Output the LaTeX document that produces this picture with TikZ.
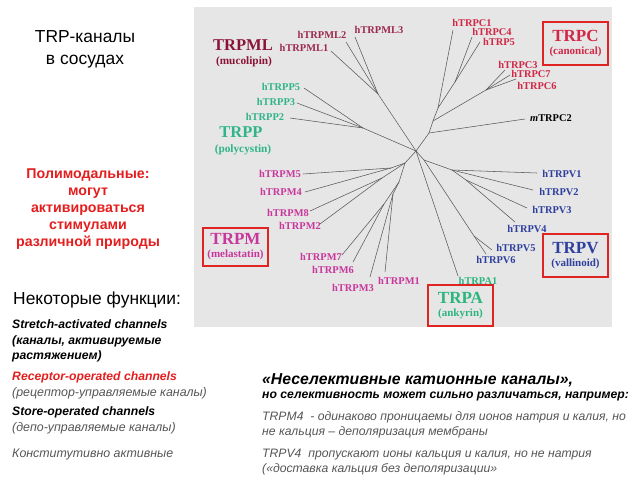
\documentclass[tikz,border=0pt]{standalone}
\usepackage{fontspec}
\setmainfont{Liberation Serif}
\newfontfamily\arialfont{Liberation Sans}
\usetikzlibrary{positioning}

\definecolor{panel}{HTML}{E6E6E6}
\definecolor{boxred}{HTML}{E02424}
\definecolor{mlcol}{HTML}{9C2A4E}
\definecolor{mltitle}{HTML}{8A1438}
\definecolor{ppcol}{HTML}{30B48A}
\definecolor{trpccol}{HTML}{D02846}
\definecolor{trpmcol}{HTML}{C8379B}
\definecolor{trpvcol}{HTML}{2E3F9E}
\definecolor{trpacol}{HTML}{2DB580}
\definecolor{noteg}{HTML}{555555}
\definecolor{polyred}{HTML}{E41E1E}

\begin{document}
\begin{tikzpicture}[x=1pt,y=-1pt,
            branch/.style={draw=black!65, line width=0.55pt},
            leaf/.style={font=\bfseries\fontsize{10.4}{10}\selectfont, inner sep=0pt},
            clade/.style={font=\bfseries\fontsize{16.5}{16}\selectfont, inner sep=0pt},
            subclade/.style={font=\bfseries\fontsize{11.3}{10}\selectfont, inner sep=0pt},
            redbox/.style={draw=boxred, line width=1.4pt, inner sep=0pt, align=center},
            slide/.style={font=\arialfont\fontsize{17.4}{22}\selectfont, inner sep=0pt, align=center},
            fnhead/.style={font=\arialfont\bfseries\itshape\fontsize{12.2}{15.5}\selectfont, inner sep=0pt, align=left, anchor=west},
            fnnote/.style={font=\arialfont\itshape\fontsize{12.4}{15}\selectfont, text=noteg, inner sep=0pt, align=left, anchor=west},
            ]

    \useasboundingbox (0,0) rectangle (640,480);
    \fill[panel] (194,7) rectangle (612,327);

    % tree: inner points and tips
    \coordinate (c0) at (416,151);
    \coordinate (ml) at (378,94);
    \coordinate (ml1) at (331,51);
    \coordinate (ml2) at (346,42);
    \coordinate (ml3) at (355,37);
    \coordinate (pp) at (363,128);
    \coordinate (pp5) at (304,88);
    \coordinate (pp3) at (297,103);
    \coordinate (pp2) at (290,118);
    \coordinate (ca) at (429,133);
    \coordinate (cb) at (433,121);
    \coordinate (cd) at (438,108);
    \coordinate (c45) at (455,82);
    \coordinate (c367) at (486,90);
    \coordinate (tc1) at (453,30);
    \coordinate (tc4) at (472,37);
    \coordinate (tc5) at (480,42);
    \coordinate (tc3) at (505,70);
    \coordinate (tc7) at (510,75);
    \coordinate (tc6) at (516,79);
    \coordinate (mc2) at (525,119);
    \coordinate (mm) at (405,163);
    \coordinate (m54) at (391,168);
    \coordinate (m82) at (382,178);
    \coordinate (m7631) at (399,182);
    \coordinate (m76) at (384,204);
    \coordinate (m31) at (393,194);
    \coordinate (tm5) at (303,174);
    \coordinate (tm4) at (305,192);
    \coordinate (tm8) at (310,211);
    \coordinate (tm2) at (320,224);
    \coordinate (tm7) at (342,255);
    \coordinate (tm6) at (353,262);
    \coordinate (tm3) at (370,277);
    \coordinate (tm1) at (385,272);
    \coordinate (vp) at (424,160);
    \coordinate (vq) at (452,170);
    \coordinate (vr) at (466,180);
    \coordinate (v56) at (474,236);
    \coordinate (tv1) at (537,173);
    \coordinate (tv2) at (533,190);
    \coordinate (tv3) at (527,208);
    \coordinate (tv4) at (515,222);
    \coordinate (tv5) at (492,250);
    \coordinate (tv6) at (486,254);
    \coordinate (ta1) at (458,276);

    \draw[branch] (c0) -- (ml) -- (ml1);
    \draw[branch] (ml) -- (ml2);
    \draw[branch] (ml) -- (ml3);
    \draw[branch] (c0) -- (pp);
    \foreach \t in {pp5,pp3,pp2} \draw[branch] (pp) -- (\t);
    \draw[branch] (c0) -- (ca) -- (mc2);
    \draw[branch] (ca) -- (cb) -- (c367);
    \foreach \t in {tc3,tc7,tc6} \draw[branch] (c367) -- (\t);
    \draw[branch] (cb) -- (cd) -- (tc1);
    \draw[branch] (cd) -- (c45);
    \foreach \t in {tc4,tc5} \draw[branch] (c45) -- (\t);
    \draw[branch] (c0) -- (mm);
    \draw[branch] (mm) -- (m54);
    \foreach \t in {tm5,tm4} \draw[branch] (m54) -- (\t);
    \draw[branch] (mm) -- (m82);
    \foreach \t in {tm8,tm2} \draw[branch] (m82) -- (\t);
    \draw[branch] (mm) -- (m7631) -- (m76);
    \draw[branch] (m7631) -- (m31);
    \foreach \t in {tm7,tm6} \draw[branch] (m76) -- (\t);
    \foreach \t in {tm3,tm1} \draw[branch] (m31) -- (\t);
    \draw[branch] (c0) -- (vp) -- (vq);
    \draw[branch] (vq) -- (vr);
    \foreach \t in {tv1,tv2} \draw[branch] (vq) -- (\t);
    \foreach \t in {tv3,tv4} \draw[branch] (vr) -- (\t);
    \draw[branch] (vp) -- (v56);
    \foreach \t in {tv5,tv6} \draw[branch] (v56) -- (\t);
    \draw[branch] (c0) -- (ta1);

    % leaf names
    \node[leaf, text=mlcol] (lml1) at (304,48) {hTRPML1};
    \node[leaf, text=mlcol] (lml2) at (322,35) {hTRPML2};
    \node[leaf, text=mlcol] (lml3) at (379,30) {hTRPML3};
    \node[leaf, text=ppcol] (lpp5) at (281,87) {hTRPP5};
    \node[leaf, text=ppcol] (lpp3) at (276,102) {hTRPP3};
    \node[leaf, text=ppcol] (lpp2) at (265,117) {hTRPP2};
    \node[leaf, text=trpccol] (lc1) at (472,23) {hTRPC1};
    \node[leaf, text=trpccol] (lc4) at (492,32) {hTRPC4};
    \node[leaf, text=trpccol] (lc5) at (499,42) {hTRP5};
    \node[leaf, text=trpccol] (lc3) at (518,65) {hTRPC3};
    \node[leaf, text=trpccol] (lc7) at (531,74) {hTRPC7};
    \node[leaf, text=trpccol] (lc6) at (537,86) {hTRPC6};
    \node[leaf] (lmc2) at (551,118) {\textit{m}TRPC2};
    \node[leaf, text=trpmcol] (lm5) at (280,174) {hTRPM5};
    \node[leaf, text=trpmcol] (lm4) at (281,192) {hTRPM4};
    \node[leaf, text=trpmcol] (lm8) at (288,213) {hTRPM8};
    \node[leaf, text=trpmcol] (lm2) at (300,226) {hTRPM2};
    \node[leaf, text=trpmcol] (lm7) at (321,257) {hTRPM7};
    \node[leaf, text=trpmcol] (lm6) at (333,270) {hTRPM6};
    \node[leaf, text=trpmcol] (lm3) at (353,288) {hTRPM3};
    \node[leaf, text=trpmcol] (lm1) at (399,281) {hTRPM1};
    \node[leaf, text=trpvcol] (lv1) at (562,174) {hTRPV1};
    \node[leaf, text=trpvcol] (lv2) at (559,192) {hTRPV2};
    \node[leaf, text=trpvcol] (lv3) at (552,210) {hTRPV3};
    \node[leaf, text=trpvcol] (lv4) at (527,229) {hTRPV4};
    \node[leaf, text=trpvcol] (lv5) at (516,248) {hTRPV5};
    \node[leaf, text=trpvcol] (lv6) at (496,260) {hTRPV6};
    \node[leaf, text=trpacol] (la1) at (478,281) {hTRPA1};

    % families
    \node[clade, text=mltitle] (trpml) at (243,45) {TRPML};
    \node[subclade, text=mltitle] (trpmlsub) at (244,62) {(mucolipin)};
    \node[clade, text=ppcol] (trpp) at (241,132) {TRPP};
    \node[subclade, text=ppcol] (trppsub) at (243,150) {(polycystin)};
    \node[redbox, text=trpccol, minimum width=65, minimum height=43] (trpc) at (575.5,43.5)
        {\fontsize{17}{17}\selectfont\bfseries TRPC\\[1pt]\fontsize{11}{11}\selectfont\bfseries (canonical)};
    \node[redbox, text=trpmcol, minimum width=65, minimum height=38] (trpm) at (235.5,247)
        {\fontsize{17}{17}\selectfont\bfseries TRPM\\[1pt]\fontsize{11}{11}\selectfont\bfseries (melastatin)};
    \node[redbox, text=trpvcol, minimum width=65, minimum height=43] (trpv) at (575.5,255.5)
        {\fontsize{17}{17}\selectfont\bfseries TRPV\\[1pt]\fontsize{11}{11}\selectfont\bfseries (vallinoid)};
    \node[redbox, text=trpacol, minimum width=65, minimum height=41] (trpa) at (460.5,305.5)
        {\fontsize{17}{17}\selectfont\bfseries TRPA\\[1pt]\fontsize{11}{11}\selectfont\bfseries (ankyrin)};

    % slide text
    \node[slide] (title) at (85,49) {TRP-каналы\\в сосудах};
    \node[slide, text=polyred, font=\arialfont\bfseries\fontsize{14.2}{17}\selectfont] (poly) at (88,209)
        {Полимодальные:\\могут\\активироваться\\стимулами\\различной природы};
    \node[slide, anchor=west] (funcs) at (13,300) {Некоторые функции:};
    \node[fnhead] (stretch) at (12,341) {Stretch-activated channels\\(каналы, активируемые\\растяжением)};
    \node[fnhead, text=polyred] (roc) at (12,377) {Receptor-operated channels};
    \node[fnnote, below=4pt of roc.south west, anchor=north west] (rocru) {(рецептор-управляемые каналы)};
    \node[fnhead] (soc) at (12,412) {Store-operated channels};
    \node[fnnote, below=4pt of soc.south west, anchor=north west] (socru) {(депо-управляемые каналы)};
    \node[fnnote] (const) at (12,455) {Конститутивно активные};

    \node[fnhead, font=\arialfont\bfseries\itshape\fontsize{15.8}{16}\selectfont] (nonsel) at (262,380)
        {«Неселективные катионные каналы»,};
    \node[fnhead, font=\arialfont\bfseries\itshape\fontsize{12.2}{14}\selectfont] (selvar) at (262,396)
        {но селективность может сильно различаться, например:};
    \node[fnnote, font=\arialfont\itshape\fontsize{12.2}{14.5}\selectfont] (m4note) at (262,425)
        {TRPM4 \ - одинаково проницаемы для ионов натрия и калия, но\\не кальция – деполяризация мембраны};
    \node[fnnote, font=\arialfont\itshape\fontsize{12.2}{14.5}\selectfont] (v4note) at (262,462)
        {TRPV4 \ пропускают ионы кальция и калия, но не натрия\\(«доставка кальция без деполяризации»};
\end{tikzpicture}
\end{document}
